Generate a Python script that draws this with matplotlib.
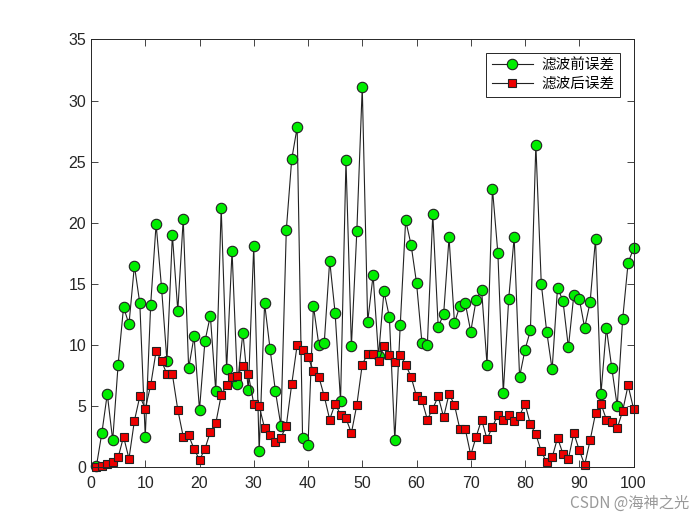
import numpy as np
import matplotlib
matplotlib.use("Agg")
from matplotlib import pyplot as plt

plt.rcParams['font.family'] = ['Liberation Sans', 'Noto Sans CJK SC', 'DejaVu Sans']

# 采样序号
n = np.arange(1, 101)

# 滤波前误差
err_before = [0.1, 2.8, 6.0, 2.2, 8.4, 13.1, 11.7, 16.5, 13.4, 2.5,
              13.3, 19.9, 14.7, 8.7, 19.0, 12.8, 20.3, 8.1, 10.7, 4.7,
              10.3, 12.4, 6.2, 21.2, 8.0, 17.7, 6.8, 11.0, 6.3, 18.1,
              1.3, 13.4, 9.7, 6.2, 3.4, 19.4, 25.2, 27.8, 2.4, 1.8,
              13.2, 10.0, 10.2, 16.9, 12.6, 5.4, 25.1, 9.9, 19.3, 31.1,
              11.9, 15.7, 9.1, 14.4, 12.3, 2.2, 11.6, 20.2, 18.2, 15.1,
              10.2, 10.0, 20.7, 11.5, 12.5, 18.8, 11.8, 13.2, 13.4, 11.1,
              13.7, 14.5, 8.4, 22.8, 17.5, 6.1, 13.8, 18.8, 7.4, 9.6,
              11.2, 26.4, 15.0, 11.1, 8.0, 14.7, 13.6, 9.8, 14.1, 13.8,
              11.4, 13.5, 18.7, 6.0, 11.4, 8.1, 5.0, 12.1, 16.7, 17.9]

# 滤波后误差
err_after = [0.0, 0.1, 0.3, 0.4, 0.8, 2.5, 0.7, 3.8, 5.8, 4.8,
             6.7, 9.5, 8.7, 7.6, 7.6, 4.7, 2.5, 2.6, 1.5, 0.6,
             1.5, 2.9, 3.6, 5.9, 6.7, 7.4, 7.5, 8.3, 7.6, 5.2,
             5.0, 3.2, 2.6, 2.1, 2.4, 3.4, 6.8, 10.0, 9.6, 9.0,
             7.9, 7.4, 5.8, 3.9, 5.2, 4.3, 4.0, 2.8, 5.1, 8.4,
             9.3, 9.3, 8.7, 9.9, 9.2, 8.6, 9.2, 8.4, 7.4, 5.8,
             5.5, 3.9, 4.8, 5.8, 4.1, 6.0, 5.1, 3.1, 3.1, 1.0,
             2.5, 3.9, 2.3, 3.3, 4.3, 3.9, 4.3, 3.8, 4.2, 5.2,
             3.5, 2.7, 1.3, 0.4, 0.8, 2.4, 1.1, 0.7, 2.8, 1.4,
             0.2, 2.2, 4.4, 5.2, 3.9, 3.7, 3.2, 4.6, 6.7, 4.8]

fig = plt.figure(figsize=(7, 5.25), dpi=100)
ax = fig.add_axes([0.13, 0.11, 0.775, 0.815])

ax.plot(n, err_before, '-o', color='#222222', linewidth=0.8,
        markerfacecolor='#00ee00', markeredgecolor='#222222',
        markeredgewidth=0.8, markersize=7.5, label='滤波前误差', clip_on=False)
ax.plot(n, err_after, '-s', color='#222222', linewidth=0.8,
        markerfacecolor='#ee0000', markeredgecolor='#222222',
        markeredgewidth=0.8, markersize=6, label='滤波后误差', clip_on=False)

ax.set_xlim(0, 100)
ax.set_ylim(0, 35)
ax.set_xticks(np.arange(0, 101, 10))
ax.set_yticks(np.arange(0, 36, 5))
ax.tick_params(direction='in', top=True, right=True, labelsize=11.5,
               length=5, width=0.6, colors='#262626')
ax.tick_params(axis='x', pad=6)
for s in ax.spines.values():
    s.set_linewidth(0.7)
    s.set_color('#262626')

leg = ax.legend(loc='upper right', fancybox=False, edgecolor='#262626',
                framealpha=1, prop={'family': ['Noto Sans CJK SC'], 'size': 10.5},
                handlelength=2.8, borderaxespad=0.9, labelspacing=0.3,
                handletextpad=0.6)
leg.get_frame().set_linewidth(0.7)

fig.text(0.985, 0.025, 'CSDN @海神之光', ha='right', va='bottom',
         color='#999999', fontsize=11, family=['Noto Sans CJK SC'])

fig.savefig('out.png', dpi=100)
